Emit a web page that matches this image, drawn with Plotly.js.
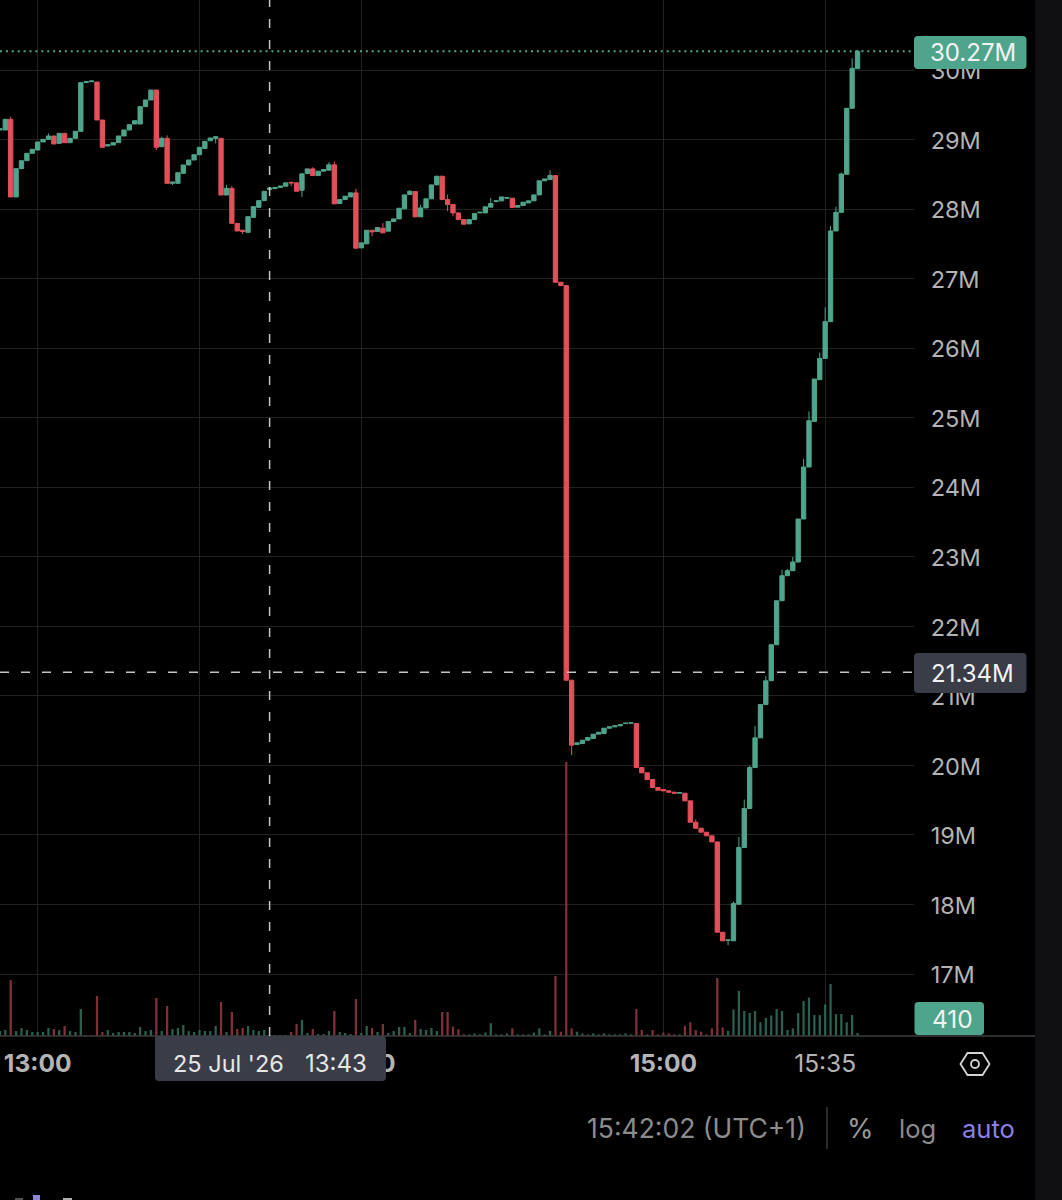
<!DOCTYPE html>
<html>
<head>
<meta charset="utf-8">
<script src="https://cdn.plot.ly/plotly-3.0.1.min.js"></script>
<style>html,body{margin:0;padding:0;background:#000;overflow:hidden}#c{width:1062px;height:1200px}</style>
</head>
<body>
<div id="c"></div>
<script>
const opens = [29.137,29.137,29.291,28.174,28.581,28.696,28.802,28.849,28.965,29.003,
29.051,28.945,29.089,28.955,29.017,29.118,29.818,29.832,29.827,29.281,
28.907,28.921,28.955,29.051,29.137,29.223,29.223,29.473,29.569,29.712,
28.897,29.017,28.370,28.370,28.514,28.634,28.706,28.782,28.870,28.983,
29.017,29.017,28.202,28.298,27.795,27.697,27.665,27.881,28.025,28.121,
28.283,28.293,28.312,28.329,28.386,28.377,28.271,28.511,28.578,28.482,
28.545,28.559,28.636,28.080,28.137,28.175,28.233,27.442,27.500,27.696,
27.677,27.725,27.682,27.821,27.859,28.003,28.209,28.252,27.888,28.017,
28.147,28.348,28.473,28.137,28.065,27.945,27.849,27.787,27.849,27.945,
27.945,28.027,28.108,28.118,28.156,28.156,28.027,28.051,28.089,28.118,
28.204,28.406,28.425,28.482,26.948,26.900,21.225,20.300,20.314,20.362,
20.386,20.449,20.458,20.535,20.554,20.569,20.602,20.607,20.602,19.969,
19.893,19.797,19.682,19.653,19.634,19.615,19.600,19.600,19.490,19.183,
19.097,19.039,18.987,18.900,17.601,17.486,17.477,18.004,18.819,19.380,
19.969,20.396,20.875,21.218,21.735,22.368,22.728,22.800,22.924,23.543,
24.291,24.947,25.547,25.853,26.381,27.685,27.953,28.500,29.449,30.019];

const closes = [29.156,29.291,28.174,28.581,28.696,28.802,28.859,28.965,29.003,29.051,
28.936,29.089,28.955,29.017,29.118,29.818,29.832,29.842,29.281,28.888,
28.926,28.955,29.051,29.137,29.214,29.271,29.473,29.569,29.712,28.888,
29.017,28.370,28.389,28.523,28.634,28.706,28.782,28.888,28.974,29.022,
29.041,28.202,28.298,27.795,27.685,27.678,27.891,28.035,28.121,28.255,
28.303,28.312,28.332,28.377,28.377,28.257,28.506,28.578,28.482,28.545,
28.569,28.636,28.075,28.137,28.185,28.233,27.437,27.514,27.696,27.672,
27.734,27.658,27.821,27.859,28.012,28.204,28.257,27.888,28.017,28.147,
28.348,28.473,28.137,28.065,27.945,27.849,27.782,27.849,27.936,27.955,
28.032,28.080,28.118,28.175,28.166,28.022,28.051,28.099,28.118,28.204,
28.406,28.434,28.482,26.948,26.900,21.225,20.291,20.324,20.362,20.401,
20.449,20.477,20.535,20.554,20.569,20.588,20.607,20.612,19.969,19.893,
19.797,19.682,19.643,19.634,19.615,19.600,19.610,19.490,19.183,19.097,
19.039,18.987,18.900,17.601,17.477,17.490,18.013,18.819,19.380,19.969,
20.396,20.875,21.216,21.735,22.368,22.728,22.800,22.924,23.543,24.291,
24.957,25.556,25.853,26.381,27.685,27.953,28.504,29.449,30.024,30.270];

const upperWickBars = [2,9,30,31,42,43,56,58,61,62,66,71,76,78,83,91,102,129,136,137,138,139,140,142,145,146,147,149,150,152,153,154,155,156,158,159];
const upperWickTops = [29.329,29.089,29.041,29.060,28.346,28.332,28.521,28.602,28.674,28.684,28.291,27.802,28.271,28.060,28.209,28.161,28.559,19.221,18.042,18.972,19.509,19.998,20.564,21.283,22.814,22.824,22.996,24.406,25.091,25.935,26.587,27.757,28.035,28.528,30.168,30.290];
const lowerWickBars = [29,32,40,45,54,56,69,83,84,106,135];
const lowerWickEnds = [28.849,28.346,28.945,27.640,28.329,28.175,27.610,27.969,27.897,20.147,17.414];

const volumes = [680,820,7670,680,1100,820,550,550,550,1100,
960,820,1370,680,550,3700,140,140,5480,550,
820,410,550,550,550,410,1230,680,820,5210,
680,4110,960,1100,1510,680,550,820,680,680,
1370,4660,550,3290,960,1100,1370,820,680,820,
140,140,140,140,550,1640,2190,410,960,270,
270,680,3430,550,410,270,5070,410,1370,1100,
550,1640,410,680,1230,1230,410,2190,960,820,
1100,680,3290,3290,1290,930,230,230,350,230,
470,1750,230,230,350,1050,230,230,230,470,
1050,230,700,8220,590,37540,1050,590,350,230,
350,230,350,230,230,230,350,230,3700,820,
230,820,230,470,350,230,230,1400,1880,820,
590,230,1050,7950,1170,700,3630,6170,3430,3150,
3430,1880,2470,2810,3700,3430,820,1050,3150,4800,
5260,2880,2880,4330,7120,3010,3010,1880,2880,410];

const priceTicks = [17,18,19,20,21,22,23,24,25,26,27,28,29,30,31];
const timeTickBars = [7,37,67,123,153];
const timeTickLabels = ["<b>13:00</b>","","<b>14:00</b>","<b>15:00</b>","15:35"];
const lastPrice = 30.27, crossPrice = 21.34, crossBar = 50;

const UP='#4fa58c', DOWN='#e2505a', VUP='#2a5f52', VDOWN='#7e3238';
const W=1062,H=1200,PR=914,PB=1036;
const fx=p=>p/PR, fy=p=>1-p/PB;
const bars=closes.map((_,i)=>i);
const highs=closes.map((c,i)=>{const k=upperWickBars.indexOf(i);return k>=0?upperWickTops[k]:Math.max(c,opens[i]);});
const lows=closes.map((c,i)=>{const k=lowerWickBars.indexOf(i);return k>=0?lowerWickEnds[k]:Math.min(c,opens[i]);});

const FONT='Inter, sans-serif';
function rr(x0,y0,x1,y1,r,color,rt=true){
  const X=fx,Y=fy,k=r;
  let d=`M${X(x0+(rt?k:0))},${Y(y0)} L${X(x1-k)},${Y(y0)} Q${X(x1)},${Y(y0)} ${X(x1)},${Y(y0+k)} L${X(x1)},${Y(y1-k)} Q${X(x1)},${Y(y1)} ${X(x1-k)},${Y(y1)} L${X(x0+k)},${Y(y1)} Q${X(x0)},${Y(y1)} ${X(x0)},${Y(y1-k)} L${X(x0)},${Y(y0+(rt?k:0))}`+(rt?` Q${X(x0)},${Y(y0)} ${X(x0+k)},${Y(y0)}`:'')+' Z';
  return {type:'path',xref:'paper',yref:'paper',path:d,fillcolor:color,line:{width:0},layer:'above'};
}
function box(x0,y0,x1,y1,color){return {type:'rect',xref:'paper',yref:'paper',x0:fx(x0),x1:fx(x1),y0:fy(y0),y1:fy(y1),fillcolor:color,line:{width:0},layer:'above'};}
function txt(t,x,y,size,color,anchor){return {text:t,xref:'paper',yref:'paper',x:fx(x),y:fy(y),xanchor:anchor||'center',yanchor:'middle',showarrow:false,font:{family:FONT,size:size,color:color},borderpad:0};}
const hx=975,hy=1064;
const hexPath=[[-14.5,0],[-7.5,-11],[7.5,-11],[14.5,0],[7.5,11],[-7.5,11]].map((p,i)=>(i?'L':'M')+fx(hx+p[0])+','+fy(hy+p[1])).join(' ')+' Z';

const shapes=[
  box(1035,0,1062,1200,'#0f0f11'),
  {type:'line',xref:'paper',yref:'paper',x0:0,x1:fx(1035),y0:0,y1:0,line:{color:'#3d3d3d',width:1.5},layer:'above'},
  {type:'line',xref:'paper',yref:'y2',x0:0,x1:1,y0:lastPrice,y1:lastPrice,line:{color:UP,width:2,dash:'2px,3.9px'},layer:'above'},
  {type:'line',xref:'paper',yref:'y2',x0:0,x1:1,y0:crossPrice,y1:crossPrice,line:{color:'#c4c4c4',width:1.5,dash:'9px,12px'},layer:'above'},
  {type:'line',xref:'x',yref:'paper',x0:crossBar,x1:crossBar,y0:0,y1:1,line:{color:'#c4c4c4',width:1.5,dash:'9px,12px'},layer:'above'},
  rr(914,36,1026.5,69,4,UP),
  rr(914,653,1026.5,693,4,'#3a3c47'),
  rr(914.5,1002,984,1035,4,UP),
  rr(155,1036,386,1081,4,'#3a3c47',false),
  {type:'path',xref:'paper',yref:'paper',path:hexPath,line:{color:'#d4d4d4',width:1.8},fillcolor:'rgba(0,0,0,0)',layer:'above'},
  {type:'circle',xref:'paper',yref:'paper',x0:fx(hx-4),x1:fx(hx+4),y0:fy(hy-4),y1:fy(hy+4),line:{color:'#d4d4d4',width:1.8},fillcolor:'rgba(0,0,0,0)',layer:'above'},
  {type:'line',xref:'paper',yref:'paper',x0:fx(827),x1:fx(827),y0:fy(1107),y1:fy(1149),line:{color:'#3a3a3a',width:1.5},layer:'above'},
  box(33,1195,40,1200,'#8e86d8'),
  box(63,1198,72,1200,'#b0b0b0'),
  box(15,1198,23,1200,'#505050')
];
const annotations=[
  txt('30.27M',973,52.5,24,'#f2f2f2'),
  txt('21.34M',973,673.5,24,'#f2f2f2'),
  txt('410',952,1018.5,24.5,'#f2f2f2'),
  txt("25 Jul '26",228.5,1063,23.5,'#e6e6e6'),
  txt('13:43',336,1063,24,'#e6e6e6'),
  txt('15:42:02 (UTC+1)',806.5,1128,26.5,'#8c8c8c','right'),
  txt('%',860.5,1128,27,'#9a9a9a'),
  txt('log',917,1128,25.5,'#8c8c8c'),
  txt('auto',988,1128,25.5,'#8a7fe6')
];

const data=[
  {type:'bar',x:bars,y:volumes,width:0.42,yaxis:'y',xaxis:'x',
   marker:{color:closes.map((c,i)=>c>=opens[i]?VUP:VDOWN),line:{width:0}},hoverinfo:'skip'},
  {type:'candlestick',x:bars,open:opens,high:highs,low:lows,close:closes,yaxis:'y2',xaxis:'x',
   increasing:{line:{color:UP,width:1},fillcolor:UP},
   decreasing:{line:{color:DOWN,width:1},fillcolor:DOWN},
   whiskerwidth:0,hoverinfo:'skip'}
];
const layout={
  width:W,height:H,autosize:false,
  margin:{l:0,r:W-PR,t:0,b:H-PB,pad:0},
  paper_bgcolor:'#000',plot_bgcolor:'#000',
  showlegend:false,boxgap:0.2,boxgroupgap:0,boxmode:'overlay',
  font:{family:FONT,color:'#b4b4b4'},
  xaxis:{range:[0.017,169.47],fixedrange:true,rangeslider:{visible:false},
    tickmode:'array',tickvals:timeTickBars,ticktext:timeTickLabels,
    tickfont:{family:FONT,size:24.5,color:'#b4b4b4'},
    ticks:'outside',ticklen:6,tickcolor:'rgba(0,0,0,0)',
    showgrid:true,gridcolor:'#222222',gridwidth:1,zeroline:false,showline:false},
  yaxis:{range:[0,141932],fixedrange:true,showgrid:false,zeroline:false,showticklabels:false,ticks:'',showline:false},
  yaxis2:{overlaying:'y',side:'right',range:[16.1086,31.0066],fixedrange:true,
    tickmode:'array',tickvals:priceTicks,ticktext:priceTicks.map(v=>v+'M'),
    tickfont:{family:FONT,size:23.5,color:'#b4b4b4'},
    ticks:'outside',ticklen:11,tickcolor:'rgba(0,0,0,0)',ticklabelshift:1,
    showgrid:true,gridcolor:'#222222',gridwidth:1,zeroline:false,showline:false},
  shapes,annotations
};
Plotly.newPlot('c',data,layout,{displayModeBar:false,staticPlot:true});
</script>
</body>
</html>
